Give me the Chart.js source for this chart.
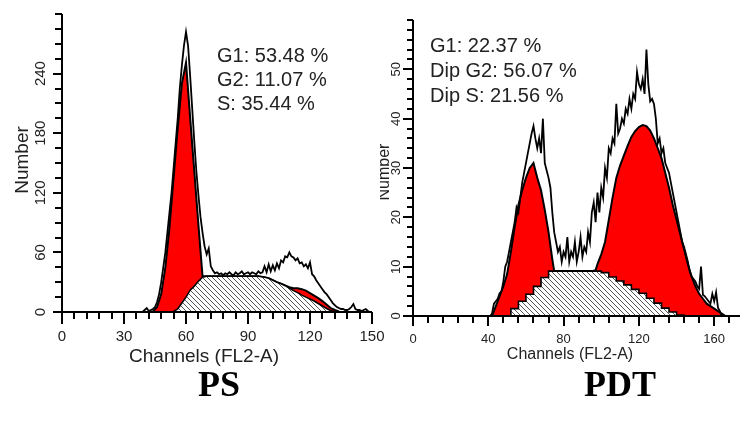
<!DOCTYPE html>
<html>
<head>
<meta charset="utf-8">
<script src="https://cdn.jsdelivr.net/npm/chart.js@4.4.1/dist/chart.umd.min.js"></script>
<style>
  body { margin: 0; background: #fff; width: 740px; height: 423px; overflow: hidden; position: relative; }
  canvas { position: absolute; top: 0; }
  #ps { left: 0; }
  #pdt { left: 380px; }
</style>
</head>
<body>
<canvas id="ps" width="400" height="423"></canvas>
<canvas id="pdt" width="360" height="423"></canvas>
<script>
// PS histogram: raw counts per channel, starting at channel 38
const psRawStart = 38;
const psRaw = [
  0, 0, 2, 4, 1, 2, 3, 5, 10, 18,
  30, 45, 60, 80, 100, 120, 145, 170, 195, 225,
  248, 268, 282, 268, 238, 205, 172, 142, 118, 96,
  80, 66, 58, 64, 46, 42, 39, 40, 38, 39,
  37, 39, 38, 40, 38, 37, 40, 38, 39, 41,
  38, 39, 40, 38, 40, 39, 38, 41, 39, 40,
  46, 40, 48, 41, 47, 42, 49, 44, 52, 50,
  56, 55, 60, 56, 55, 52, 54, 49, 50, 46,
  48, 44, 50, 38, 36, 32, 29, 26, 23, 20,
  18, 15, 12, 9, 7, 5, 4, 3, 3, 2,
  2, 3, 5, 8, 3, 2, 2, 1, 2, 3,
  1, 0, 0
];
// PS model: total fit and S phase
const psFitCh = [40, 42, 44, 46, 48, 50, 52, 54, 56, 58, 60, 62, 64, 66, 68, 70, 75, 80, 85, 90, 95, 98, 100, 102, 104, 106, 108, 110, 112, 114, 116, 118, 120, 122, 124, 126, 128, 130, 132, 134];
const psFit   = [0, 0, 0.5, 5, 18, 45, 85, 135, 185, 230, 251, 196, 142, 88, 36, 36, 36, 36, 36, 36, 36, 35, 34, 32, 30, 28.5, 26.8, 25, 24, 24, 23, 21.5, 19, 16.5, 14, 11, 7.5, 4, 2, 0.5];
const psS     = [0, 0, 0, 0, 0, 0, 0, 0.5, 3, 9, 15, 22, 26, 31, 35, 36, 36, 36, 36, 36, 36, 35, 34, 32, 30, 28.5, 26.5, 24, 21.5, 19.5, 17, 15, 13, 11, 8.5, 6, 3.5, 1.5, 0, 0];
const psXTicks = [0, 30, 60, 90, 120, 150];
const psYTicks = [0, 60, 120, 180, 240];
const psNotes = ['G1: 53.48 %', 'G2: 11.07 %', 'S: 35.44 %'];

// PDT histogram: raw counts per channel, starting at channel 41
const pdtRawStart = 41;
const pdtRaw = [
  0, 0.5, 2.5, 3, 3.5, 4.6, 5, 7, 10, 11,
  13, 15, 17, 19, 22, 21, 24, 27, 29, 31,
  33, 35, 37, 38.5, 36, 34, 36, 33, 40, 31,
  29.5, 28, 26, 21, 17, 15, 13, 14, 11, 13,
  12, 16, 11, 13, 12, 15, 11, 13, 16, 12,
  14, 13, 17, 15, 21, 23, 19, 25, 21, 26,
  24, 30, 28, 34, 33, 36, 35, 43, 37, 38,
  40, 39, 42, 41, 44, 42, 45, 44, 49.5, 47,
  46, 48, 45, 54, 47, 43.5, 44, 43, 40, 35,
  36, 33, 34, 31, 30, 29, 27, 25, 23, 21,
  19, 17, 15, 14, 12.5, 11, 9, 8, 7.5, 7,
  6, 5.5, 10, 4.3, 4, 3.5, 3, 2.5, 4.5, 3,
  4.8, 1.7, 1, 0, 0, 0
];
const pdtFitCh = [42, 44, 46, 48, 50, 52, 54, 56, 58, 60, 62, 64, 66, 68, 70, 72, 74, 75, 80, 85, 90, 95, 97, 98, 100, 102, 104, 106, 108, 110, 112, 114, 116, 118, 120, 122, 124, 126, 128, 130, 132, 134, 136, 138, 140, 142, 144, 146, 148, 150, 152, 154, 156, 158, 160, 162, 164, 166];
const pdtFit   = [0, 2, 4, 6, 8.5, 13, 18, 22.5, 25.5, 28, 30, 31, 28, 25.5, 21.5, 17, 11.5, 9.1, 9.1, 9.1, 9.1, 9.1, 9.3, 10.5, 12.5, 15, 19.5, 24, 28, 30.5, 32.5, 34.5, 36.3, 37.5, 38.3, 38.7, 38.5, 37.6, 36, 34, 32, 29, 26, 22.5, 19.5, 16.5, 13.5, 10.5, 8, 6, 4.5, 3.5, 2.5, 2, 1.5, 1, 0.5, 0];
const pdtSCh = [52, 56, 60, 64, 68, 72, 76, 80, 84, 88, 92, 96, 100, 104, 108, 112, 116, 120, 124, 128, 132, 136, 140, 144, 148];
const pdtS   = [0, 1.5, 3, 4.4, 6, 7.8, 9.1, 9.1, 9.1, 9.1, 9.1, 9.1, 9.1, 8.8, 7.9, 7.1, 6.3, 5.4, 4.6, 3.6, 2.6, 1.6, 0.8, 0.2, 0];
const pdtXTicks = [0, 40, 80, 120, 160];
const pdtYTicks = [0, 10, 20, 30, 40, 50];
const pdtNotes = ['G1: 22.37 %', 'Dip G2: 56.07 %', 'Dip S: 21.56 %'];

function hatch() {
  const c = document.createElement('canvas');
  c.width = 5; c.height = 5;
  const g = c.getContext('2d');
  g.fillStyle = '#fff';
  g.fillRect(0, 0, 5, 5);
  g.strokeStyle = '#555';
  g.lineWidth = 1;
  g.beginPath();
  g.moveTo(-1, -1); g.lineTo(6, 6);
  g.moveTo(-1, 4); g.lineTo(1, 6);
  g.moveTo(4, -1); g.lineTo(6, 1);
  g.stroke();
  return g.createPattern(c, 'repeat');
}

function pairs(xs, ys) {
  return ys.map((y, i) => ({ x: xs[i], y: y }));
}

function rawPairs(start, ys) {
  return ys.map((y, i) => ({ x: start + i, y: y }));
}

function axesPlugin(o) {
  return {
    id: 'histAxes',
    afterDatasetsDraw(chart) {
      const ctx = chart.ctx, xs = chart.scales.x, ys = chart.scales.y;
      const x0 = xs.getPixelForValue(xs.min), x1 = xs.getPixelForValue(xs.max);
      const y0 = ys.getPixelForValue(0), y1 = ys.getPixelForValue(ys.max);
      ctx.save();
      ctx.strokeStyle = '#000';
      ctx.fillStyle = '#222';
      ctx.lineWidth = 2;
      ctx.beginPath();
      ctx.moveTo(x0, y1); ctx.lineTo(x0, y0); ctx.lineTo(x1, y0);
      ctx.stroke();

      ctx.beginPath();
      for (let v = 0; v <= xs.max + 0.01; v += o.xMinor) {
        const p = Math.round(xs.getPixelForValue(v));
        const len = o.xTicks.includes(v) ? o.xMajorLen : o.xMinorLen;
        ctx.moveTo(p, y0); ctx.lineTo(p, y0 + len);
      }
      for (let v = 0; v <= ys.max + 0.01; v += o.yMinor) {
        const p = Math.round(ys.getPixelForValue(v));
        const len = o.yTicks.includes(v) ? o.yMajorLen : o.yMinorLen;
        ctx.moveTo(x0, p); ctx.lineTo(x0 - len, p);
      }
      ctx.stroke();

      ctx.font = o.tickFont;
      ctx.textAlign = 'center';
      ctx.textBaseline = 'middle';
      o.xTicks.forEach(v => ctx.fillText(String(v), xs.getPixelForValue(v), o.xLabelY));
      o.yTicks.forEach(v => {
        ctx.save();
        ctx.translate(o.yLabelX, ys.getPixelForValue(v));
        ctx.rotate(-Math.PI / 2);
        ctx.fillText(String(v), 0, 0);
        ctx.restore();
      });

      ctx.font = o.titleFont;
      ctx.fillText('Channels (FL2-A)', o.xTitle[0], o.xTitle[1]);
      ctx.save();
      ctx.translate(o.yTitle[0], o.yTitle[1]);
      ctx.rotate(-Math.PI / 2);
      ctx.fillText('Number', 0, 0);
      ctx.restore();

      ctx.font = '20px "Liberation Sans", Arial, sans-serif';
      ctx.textAlign = 'left';
      ctx.textBaseline = 'alphabetic';
      o.notes.forEach((t, i) => ctx.fillText(t, o.noteX, o.noteY + i * o.noteDy));

      ctx.fillStyle = '#000';
      ctx.font = 'bold 36px "Liberation Serif", "Times New Roman", serif';
      ctx.textAlign = 'center';
      ctx.fillText(o.name, o.nameX, 396);
      ctx.restore();
    }
  };
}

function histogram(id, d, o) {
  const pattern = hatch();
  new Chart(document.getElementById(id), {
    type: 'line',
    data: {
      datasets: [
        { data: d.raw, borderColor: '#000', borderWidth: 1.8, fill: false, pointRadius: 0, order: 0 },
        { data: d.s, borderColor: '#000', borderWidth: 1.6, backgroundColor: pattern, fill: 'origin', stepped: d.stepped, pointRadius: 0, order: 1 },
        { data: d.fit, borderColor: '#000', borderWidth: 2, backgroundColor: '#ff0000', fill: 'origin', pointRadius: 0, order: 2 }
      ]
    },
    options: {
      responsive: false,
      animation: false,
      layout: { padding: o.padding },
      plugins: { legend: { display: false }, tooltip: { enabled: false } },
      scales: {
        x: { type: 'linear', min: 0, max: o.xMax, display: false },
        y: { type: 'linear', min: 0, max: o.yMax, display: false }
      }
    },
    plugins: [axesPlugin(o)]
  });
}

histogram('ps', {
  raw: rawPairs(psRawStart, psRaw),
  s: pairs(psFitCh, psS),
  fit: pairs(psFitCh, psFit),
  stepped: false
}, {
  padding: { left: 62, right: 28, top: 14, bottom: 111 },
  xMax: 150, yMax: 300,
  xMinor: 6, xTicks: psXTicks, xMajorLen: 12, xMinorLen: 7,
  yMinor: 15, yTicks: psYTicks, yMajorLen: 9, yMinorLen: 7,
  tickFont: '15px "Liberation Sans", Arial, sans-serif',
  titleFont: '19px "Liberation Sans", Arial, sans-serif',
  xLabelY: 337, yLabelX: 41,
  xTitle: [204, 357], yTitle: [23, 160],
  notes: psNotes, noteX: 217, noteY: 62, noteDy: 24,
  name: 'PS', nameX: 219
});

histogram('pdt', {
  raw: rawPairs(pdtRawStart, pdtRaw),
  s: pairs(pdtSCh, pdtS),
  fit: pairs(pdtFitCh, pdtFit),
  stepped: 'after'
}, {
  padding: { left: 33, right: 0, top: 20, bottom: 107 },
  xMax: 173.7, yMax: 60,
  xMinor: 8, xTicks: pdtXTicks, xMajorLen: 10, xMinorLen: 7,
  yMinor: 2, yTicks: pdtYTicks, yMajorLen: 10, yMinorLen: 6,
  tickFont: '13px "Liberation Sans", Arial, sans-serif',
  titleFont: '16px "Liberation Sans", Arial, sans-serif',
  xLabelY: 339, yLabelX: 16,
  xTitle: [190, 355], yTitle: [5, 172],
  notes: pdtNotes, noteX: 50, noteY: 52, noteDy: 25,
  name: 'PDT', nameX: 240
});
</script>
</body>
</html>
